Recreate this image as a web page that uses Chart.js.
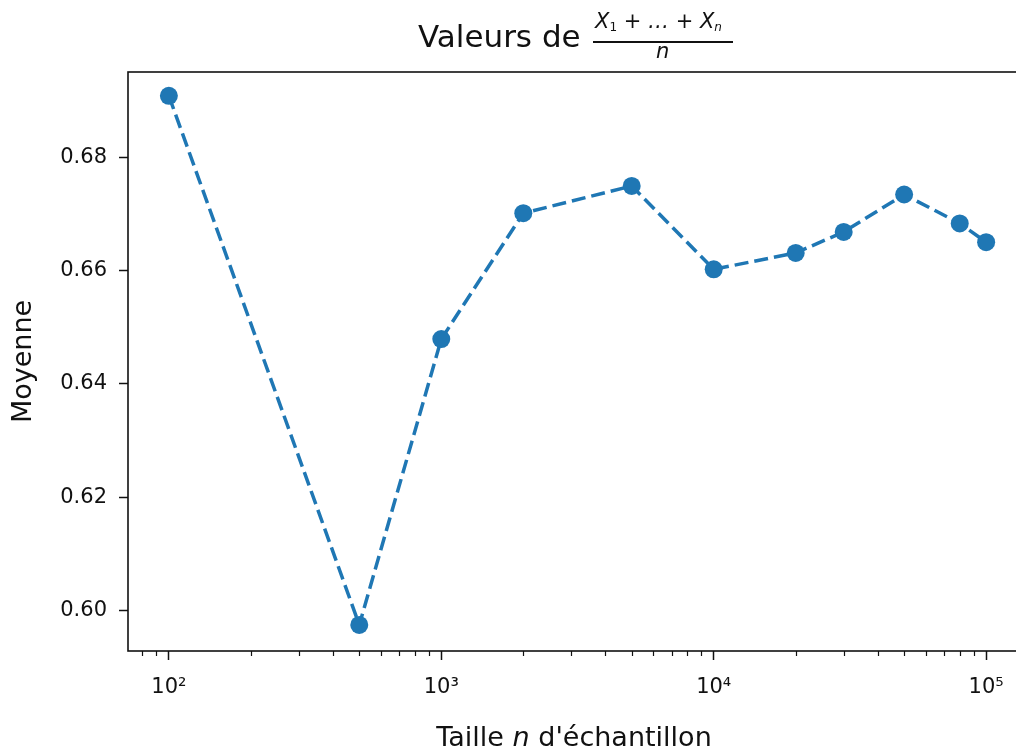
<!DOCTYPE html>
<html>
<head>
<meta charset="utf-8">
<script src="https://cdn.jsdelivr.net/npm/chart.js@4"></script>
<style>
  html, body { margin: 0; padding: 0; background: #fff; overflow: hidden; }
  #wrap { position: relative; width: 1016px; height: 749px; overflow: hidden; }
  #chart { position: absolute; left: 0; top: 0; }
  .txt { position: absolute; font-family: "DejaVu Sans", sans-serif; color: #111; white-space: nowrap; line-height: 1; }
  #title { left: 418px; top: 21px; font-size: 31px; }
  #num { left: 595px; top: 11px; font-size: 21px; font-style: italic; }
  #num sub { font-size: 12px; vertical-align: -3px; }
  #num sub.up { font-style: normal; }
  #bar { position: absolute; left: 593px; top: 41px; width: 140px; height: 1.5px; background: #111; }
  #den { left: 656px; top: 41px; font-size: 21px; font-style: italic; }
  #xlabel { left: 574px; top: 723px; font-size: 27px; transform: translateX(-50%); }
</style>
</head>
<body>
<div id="wrap">
  <canvas id="chart" width="1036" height="749"></canvas>
  <div class="txt" id="title">Valeurs de</div>
  <div class="txt" id="num">X<sub class="up">1</sub> + … + X<sub>n</sub></div>
  <div id="bar"></div>
  <div class="txt" id="den">n</div>
  <div class="txt" id="xlabel">Taille <i>n</i> d'échantillon</div>
</div>
<script>
// tailles d'échantillon et moyennes
const sampleSizes = [100, 500, 1000, 2000, 5000, 10000, 20000, 30000, 50000, 80000, 100000];
const means = [0.6908, 0.5975, 0.6479, 0.6701, 0.6749, 0.6602, 0.6631, 0.6668, 0.6734, 0.6683, 0.6650];

const xTicks = [100, 1000, 10000, 100000];
const xTickLabels = ['10²', '10³', '10⁴', '10⁵'];
const xMinorTicks = [80, 90, 200, 300, 400, 500, 600, 700, 800, 900,
    2000, 3000, 4000, 5000, 6000, 7000, 8000, 9000,
    20000, 30000, 40000, 50000, 60000, 70000, 80000, 90000];
const yTicks = [0.60, 0.62, 0.64, 0.66, 0.68];

const blue = '#1f77b4';

// cadre complet + petites graduations de l'axe log
const framePlugin = {
    id: 'frame',
    afterDraw(chart) {
        const { ctx, chartArea: a } = chart;
        const xs = chart.scales.x;
        ctx.save();
        ctx.strokeStyle = '#111';
        ctx.lineWidth = 1.2;
        xMinorTicks.forEach(v => {
            const px = Math.round(xs.getPixelForValue(v)) + 0.5;
            if (px < a.left || px > a.right) return;
            ctx.beginPath();
            ctx.moveTo(px, a.bottom);
            ctx.lineTo(px, a.bottom + 5);
            ctx.stroke();
        });
        ctx.lineWidth = 1.6;
        ctx.strokeRect(a.left, a.top, a.right - a.left, a.bottom - a.top);
        ctx.restore();
    }
};

new Chart(document.getElementById('chart'), {
    type: 'line',
    data: {
        datasets: [{
            data: sampleSizes.map((n, i) => ({ x: n, y: means[i] })),
            borderColor: blue,
            borderWidth: 3.5,
            borderDash: [14, 6],
            pointRadius: 9,
            pointHoverRadius: 9,
            pointBackgroundColor: blue,
            pointBorderWidth: 0,
            tension: 0,
            fill: false
        }]
    },
    plugins: [framePlugin],
    options: {
        responsive: false,
        animation: false,
        devicePixelRatio: 1,
        layout: { padding: { top: 72, right: 4, left: 0, bottom: 0 } },
        plugins: { legend: { display: false }, tooltip: { enabled: false } },
        scales: {
            x: {
                type: 'logarithmic',
                min: Math.pow(10, 1.85),
                max: Math.pow(10, 5.15),
                afterBuildTicks: (axis) => { axis.ticks = xTicks.map(v => ({ value: v })); },
                afterFit: (axis) => {
                    axis.height = 749 - 651;
                    axis.paddingLeft = 0;
                    axis.paddingRight = 0;
                },
                border: { display: false },
                grid: { drawOnChartArea: false, drawTicks: true, tickLength: 9, tickWidth: 1.5, tickColor: '#111' },
                ticks: {
                    padding: 15,
                    color: '#111',
                    font: { family: 'DejaVu Sans', size: 21 },
                    maxRotation: 0,
                    callback: (v) => { const i = xTicks.indexOf(v); return i >= 0 ? xTickLabels[i] : ''; }
                }
            },
            y: {
                min: 0.5929,
                max: 0.695,
                afterBuildTicks: (axis) => { axis.ticks = yTicks.map(v => ({ value: v })); },
                afterFit: (axis) => {
                    axis.width = 128;
                    axis.paddingTop = 0;
                    axis.paddingBottom = 0;
                },
                border: { display: false },
                grid: { drawOnChartArea: false, drawTicks: true, tickLength: 9, tickWidth: 1.5, tickColor: '#111' },
                ticks: {
                    padding: 12,
                    color: '#111',
                    font: { family: 'DejaVu Sans', size: 21 },
                    callback: (v) => v.toFixed(2)
                },
                title: {
                    display: true,
                    text: 'Moyenne',
                    color: '#111',
                    font: { family: 'DejaVu Sans', size: 27 },
                    padding: { top: 8, bottom: 0 }
                }
            }
        }
    }
});
</script>
</body>
</html>
